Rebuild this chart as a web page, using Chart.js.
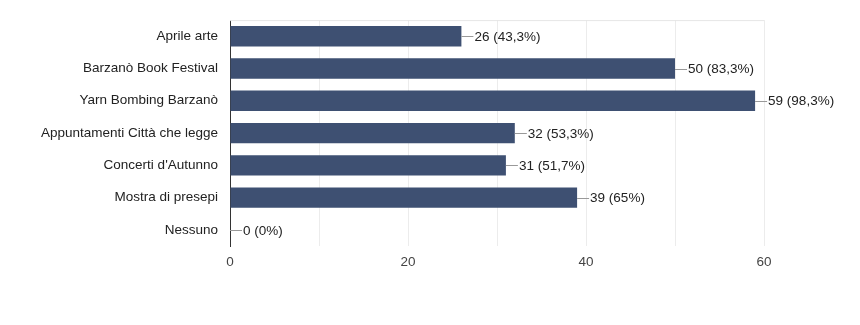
<!DOCTYPE html>
<html>
<head>
<meta charset="utf-8">
<script src="https://cdn.jsdelivr.net/npm/chart.js@4.4.0/dist/chart.umd.min.js"></script>
<style>
  html, body { margin: 0; padding: 0; background: #fff; }
  #wrap { width: 860px; height: 325px; }
</style>
</head>
<body>
<div id="wrap"><canvas id="eventsChart" width="860" height="325"></canvas></div>
<script>
// Data
const categories = [
    'Aprile arte',
    'Barzanò Book Festival',
    'Yarn Bombing Barzanò',
    'Appuntamenti Città che legge',
    "Concerti d'Autunno",
    'Mostra di presepi',
    'Nessuno'
];
const counts = [26, 50, 59, 32, 31, 39, 0];
const percentLabels = ['43,3%', '83,3%', '98,3%', '53,3%', '51,7%', '65%', '0%'];
const xTicks = [0, 20, 40, 60];

// Leader line + "n (p%)" label next to each bar
const valueLabels = {
    id: 'valueLabels',
    afterDatasetsDraw(chart) {
        const ctx = chart.ctx;
        const meta = chart.getDatasetMeta(0);
        ctx.save();
        ctx.font = '13.5px "Liberation Sans", Arial, sans-serif';
        ctx.textBaseline = 'middle';
        ctx.textAlign = 'left';
        meta.data.forEach(function(bar, i) {
            const x = bar.x;
            const y = bar.y;
            ctx.strokeStyle = '#999';
            ctx.lineWidth = 1;
            ctx.beginPath();
            ctx.moveTo(x, Math.round(y) + 0.5);
            ctx.lineTo(x + 12, Math.round(y) + 0.5);
            ctx.stroke();
            ctx.fillStyle = '#222';
            ctx.fillText(counts[i] + ' (' + percentLabels[i] + ')', x + 13, y + 1);
        });
        ctx.restore();
    }
};

// thin top border of the plot area
const topBorder = {
    id: 'topBorder',
    beforeDatasetsDraw(chart) {
        const a = chart.chartArea;
        const ctx = chart.ctx;
        ctx.save();
        ctx.strokeStyle = '#e6e6e6';
        ctx.lineWidth = 1;
        ctx.beginPath();
        ctx.moveTo(a.left, a.top + 0.5);
        ctx.lineTo(a.right, a.top + 0.5);
        ctx.stroke();
        ctx.restore();
    }
};

const ctx = document.getElementById('eventsChart').getContext('2d');
new Chart(ctx, {
    type: 'bar',
    data: {
        labels: categories,
        datasets: [{
            data: counts,
            backgroundColor: '#3e5072',
            borderWidth: 0,
            categoryPercentage: 1,
            barPercentage: 0.63
        }]
    },
    options: {
        indexAxis: 'y',
        responsive: false,
        animation: false,
        layout: { padding: { top: 16, right: 96, bottom: 0, left: 0 } },
        plugins: {
            legend: { display: false },
            tooltip: { enabled: false }
        },
        scales: {
            x: {
                min: 0,
                max: 60,
                afterBuildTicks(scale) {
                    const t = [];
                    for (let v = 0; v <= 60; v += 10) t.push({ value: v });
                    scale.ticks = t;
                },
                afterFit(scale) { scale.height = 79; },
                grid: {
                    color: '#ececec',
                    drawTicks: false
                },
                border: { display: false },
                ticks: {
                    padding: 8,
                    color: '#444',
                    font: { family: '"Liberation Sans", Arial, sans-serif', size: 13.5 },
                    callback: function(v) { return xTicks.includes(v) ? v : ''; }
                }
            },
            y: {
                afterFit(scale) { scale.width = 230; },
                grid: { display: false, drawTicks: false },
                border: { display: true, color: '#333', width: 1 },
                ticks: {
                    padding: 12,
                    color: '#222',
                    font: { family: '"Liberation Sans", Arial, sans-serif', size: 13.5 }
                }
            }
        }
    },
    plugins: [topBorder, valueLabels]
});
</script>
</body>
</html>
